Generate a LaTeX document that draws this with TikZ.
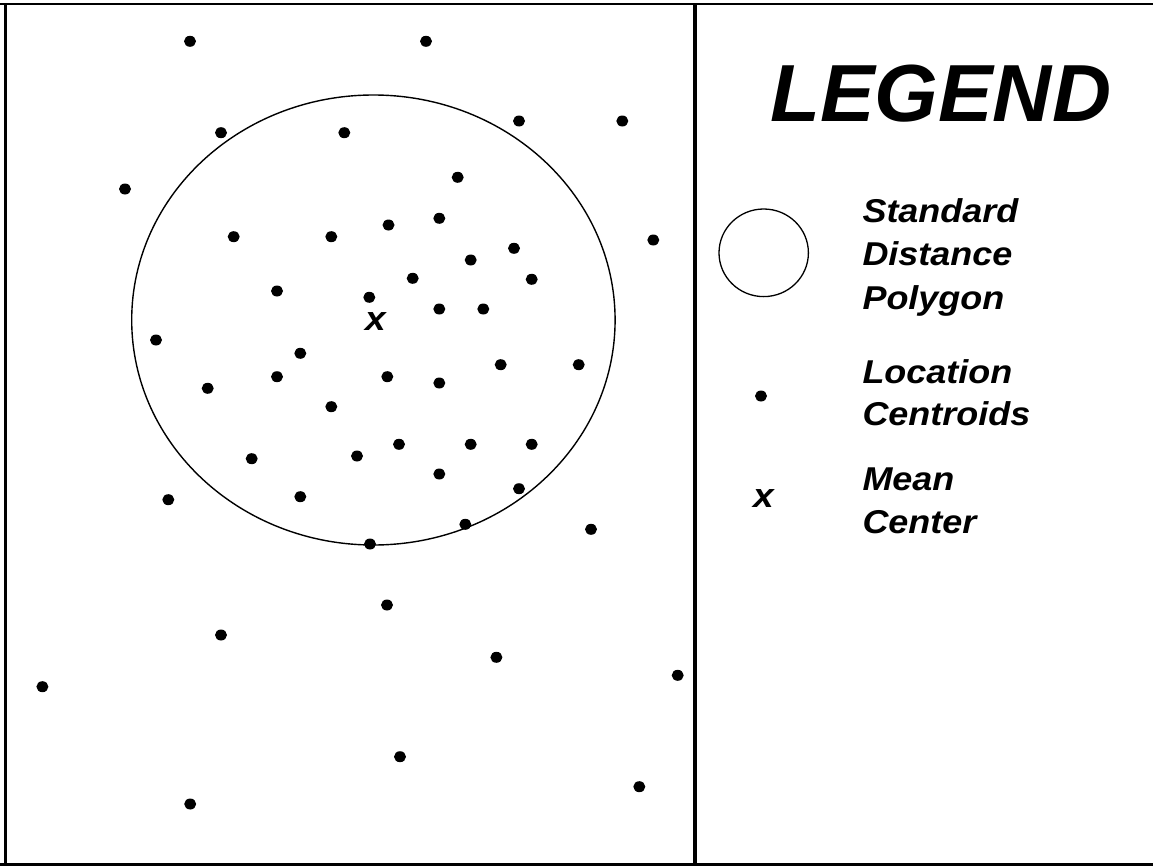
\documentclass[tikz,border=0pt]{standalone}
\usepackage{fontspec}
\setmainfont{Liberation Sans}
\newfontfamily\legfont[FakeStretch=1.09]{Liberation Sans}
\newfontfamily\titlefont[FakeStretch=1.01]{Liberation Sans}
\usetikzlibrary{shapes.geometric}
\tikzset{
  dot/.style={ellipse,fill=black,inner sep=0pt,minimum width=12pt,minimum height=11pt},
  legtext/.style={anchor=base west,inner sep=0pt,font=\legfont\fontsize{33}{33}\selectfont\bfseries\itshape},
  meanx/.style={inner sep=0pt,font=\legfont\fontsize{34}{34}\selectfont\bfseries\itshape}
}
\begin{document}
\begin{tikzpicture}[x=1pt,y=-1pt]
\useasboundingbox (0,0) rectangle (1153,867);
\fill[white] (0,0) rectangle (1153,867);
% frame
\draw[line width=2.4pt] (0,4) -- (1153,4);
\draw[line width=2.8pt] (0,864.6) -- (1153,864.6);
\draw[line width=3.2pt] (5.6,4) -- (5.6,864.6);
\draw[line width=3.2pt] (695,4) -- (695,864.6);
% standard distance ellipse
\node[ellipse,draw,line width=1.4pt,inner sep=0pt,minimum width=483.4pt,minimum height=450pt] (sd) at (373.4,320) {};
% mean center
\node[meanx] (mc) at (375.3,321.7) {x};
% location centroids
\foreach \n/\px/\py in {
 1/190/41.3, 2/426/41.3,
 3/221/132.7, 4/344.3/132.7, 5/519/121, 6/622.3/121,
 7/125/189, 8/457.7/177.3,
 9/233.7/236.7, 10/331.3/236.7, 11/388.5/225, 12/439.3/218.3, 13/653.3/240, 14/514/248.3, 15/470.7/260,
 16/412.7/278.3, 17/531.7/279.3,
 18/277/291, 19/369.3/297.3, 20/439.3/309, 21/483.3/309,
 22/156/340, 23/300.3/353.3,
 24/500.7/364.7, 25/578.7/364.7,
 26/207.7/388.3, 27/277/376.7, 28/387.3/376.7, 29/439.3/383,
 30/331.3/406.7,
 31/251.7/458.7, 32/357/456, 33/399/444.3, 34/470.7/444.3, 35/531.7/444.3,
 36/439.3/474,
 37/168.3/499.7, 38/300.3/496.7, 39/519/488.7,
 40/465.3/524.3, 41/591/529.3,
 42/370/544,
 43/387/605, 44/221/635, 45/496.4/657.3, 46/42.4/686.7, 47/677.7/675.3,
 48/400/756.7, 49/639.3/786.7, 50/190.2/804}
 {\node[dot] (d\n) at (\px,\py) {};}
% legend
\node[anchor=base west,inner sep=0pt,font=\titlefont\fontsize{81}{81}\selectfont\bfseries\itshape] (title) at (770,121.7) {LEGEND};
\node[ellipse,draw,line width=1.3pt,inner sep=0pt,minimum width=89.4pt,minimum height=87.6pt] (lsd) at (763.7,252.8) {};
\node[dot] (ldot) at (761,396) {};
\node[meanx] (lx) at (763.3,498.3) {x};
\node[legtext] (t1) at (862.3,222.3) {Standard};
\node[legtext] (t2) at (862.3,265) {Distance};
\node[legtext] (t3) at (862.3,309) {Polygon};
\node[legtext] (t4) at (862.3,383.3) {Location};
\node[legtext] (t5) at (862.3,425) {Centroids};
\node[legtext] (t6) at (862.3,490.7) {Mean};
\node[legtext] (t7) at (862.3,533.3) {Center};
\end{tikzpicture}
\end{document}
